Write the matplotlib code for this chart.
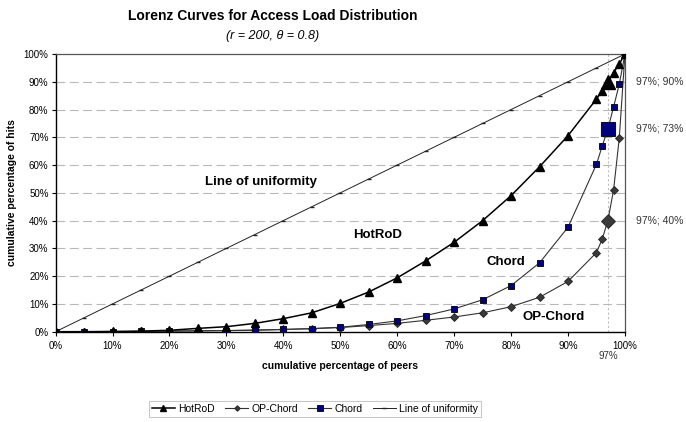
import matplotlib
matplotlib.use("Agg")
import matplotlib.pyplot as plt
from matplotlib.ticker import FuncFormatter

# cumulative percentage of peers (x) and hits (y) for each curve
peers = [0, 5, 10, 15, 20, 25, 30, 35, 40, 45, 50, 55, 60, 65, 70, 75, 80, 85, 90,
         95, 96, 97, 98, 99, 100]
hotrod = [0, 0.0, 0.1, 0.2, 0.5, 1.2, 1.8, 3.0, 4.7, 6.8, 10.2, 14.3, 19.4, 25.5,
          32.2, 40.0, 49.0, 59.4, 70.6, 83.8, 86.8, 90.0, 93.3, 96.4, 100]
op_chord = [0, 0.0, 0.0, 0.1, 0.2, 0.3, 0.4, 0.6, 0.8, 1.1, 1.5, 2.2, 3.0, 4.1,
            5.3, 6.8, 9.0, 12.4, 18.1, 28.5, 33.3, 40.0, 51.0, 69.6, 100]
chord = [0, 0.0, 0.0, 0.1, 0.2, 0.3, 0.4, 0.5, 0.8, 1.1, 1.6, 2.6, 3.9, 5.8,
         8.2, 11.5, 16.6, 24.8, 37.6, 60.3, 66.8, 73.0, 80.9, 89.1, 100]
uniform_x = [0, 5, 10, 15, 20, 25, 30, 35, 40, 45, 50, 55, 60, 65, 70, 75, 80, 85,
             90, 95, 100]
uniform_y = uniform_x

# highlighted point at 97% of peers
mark_x = 97
mark_labels = ["97%; 90%", "97%; 73%", "97%; 40%"]
mark_values = [90, 73, 40]

fig = plt.figure(figsize=(6.86, 4.22), dpi=100)
ax = fig.add_axes([0.081, 0.214, 0.83, 0.658])

plt.rcParams['font.family'] = ['Liberation Sans', 'DejaVu Sans']
font = 'Liberation Sans'

# grid lines
for g in range(10, 100, 10):
    ax.axhline(g, color='#b8b8b8', lw=0.8, ls=(0, (8, 4)), zorder=0)
ax.axvline(mark_x, color='#bdbdbd', lw=0.8, ls=(0, (2, 2)), zorder=0)

ax.plot(uniform_x, uniform_y, color='#222222', lw=0.7, marker='_', ms=3,
        mew=1.0, label='Line of uniformity', zorder=2)
ax.plot(peers, hotrod, color='black', lw=1.1, marker='^', ms=5.5,
        mfc='black', mec='black', label='HotRoD', zorder=4)
ax.plot(peers, op_chord, color='#333333', lw=0.8, marker='D', ms=3.6,
        mfc='#3a3a3a', mec='#222222', mew=0.6, label='OP-Chord', zorder=3)
ax.plot(peers, chord, color='#333333', lw=0.8, marker='s', ms=5,
        mfc='#000080', mec='#111111', mew=0.7, label='Chord', zorder=3)

# enlarged markers at 97%
i97 = peers.index(mark_x)
ax.plot(mark_x, hotrod[i97], marker='^', ms=10, color='black', zorder=5)
ax.plot(mark_x, chord[i97], marker='s', ms=10, mfc='#000080', mec='#111111',
        mew=0.8, zorder=5)
ax.plot(mark_x, op_chord[i97], marker='D', ms=7.5, mfc='#3a3a3a',
        mec='#222222', mew=0.6, zorder=5)

ax.set_xlim(0, 100)
ax.set_ylim(0, 100)
ax.set_xticks(range(0, 101, 10))
ax.set_yticks(range(0, 101, 10))
pct = FuncFormatter(lambda v, p: f"{int(v)}%")
ax.xaxis.set_major_formatter(pct)
ax.yaxis.set_major_formatter(pct)
ax.tick_params(labelsize=7, length=3, width=0.8, color='black', pad=2)
for lab in ax.get_xticklabels() + ax.get_yticklabels():
    lab.set_fontfamily(font)
ax.tick_params(axis='x', pad=4)

for side in ['left', 'bottom']:
    ax.spines[side].set_color('black')
    ax.spines[side].set_linewidth(1.0)
for side in ['top', 'right']:
    ax.spines[side].set_color('#555555')
    ax.spines[side].set_linewidth(0.9)

ax.set_xlabel('cumulative percentage of peers', fontsize=7.5,
              fontweight='bold', family=font, labelpad=7)
ax.set_ylabel('cumulative percentage of hits', fontsize=7.5,
              fontweight='bold', family=font, labelpad=5)

# curve names inside the plot
ax.text(36, 54, 'Line of uniformity', fontsize=9.5, fontweight='bold',
        family=font, ha='center', va='center')
ax.text(56.5, 35, 'HotRoD', fontsize=9.5, fontweight='bold', family=font,
        ha='center', va='center')
ax.text(79, 25, 'Chord', fontsize=9.5, fontweight='bold', family=font,
        ha='center', va='center')
ax.text(87.5, 5.3, 'OP-Chord', fontsize=9.5, fontweight='bold', family=font,
        ha='center', va='center')

# value notes at the right edge
for lab, v in zip(mark_labels, mark_values):
    ax.text(102, v, lab, fontsize=7.5, family=font, ha='left', va='center',
            color='#333333')
ax.text(mark_x, -8.8, '97%', fontsize=7, family=font, ha='center',
        va='center', color='#333333')

fig.text(0.397, 0.963, 'Lorenz Curves for Access Load Distribution',
         fontsize=10, fontweight='bold', family=font, ha='center', va='center')
fig.text(0.397, 0.915, '(r = 200, \u03b8 = 0.8)', fontsize=9, style='italic',
         family=font, ha='center', va='center')

handles, labels = ax.get_legend_handles_labels()
order = [labels.index(n) for n in ['HotRoD', 'OP-Chord', 'Chord', 'Line of uniformity']]
leg = fig.legend([handles[k] for k in order], [labels[k] for k in order],
                 loc='center', bbox_to_anchor=(0.459, 0.031), ncol=4,
                 prop={'family': font, 'size': 7.5},
                 frameon=True, fancybox=False, edgecolor='#bbbbbb',
                 handlelength=2.2, handletextpad=0.3, columnspacing=1.0,
                 borderpad=0.3, markerscale=0.8)
leg.get_frame().set_linewidth(0.8)

fig.savefig('out.png', dpi=100)
